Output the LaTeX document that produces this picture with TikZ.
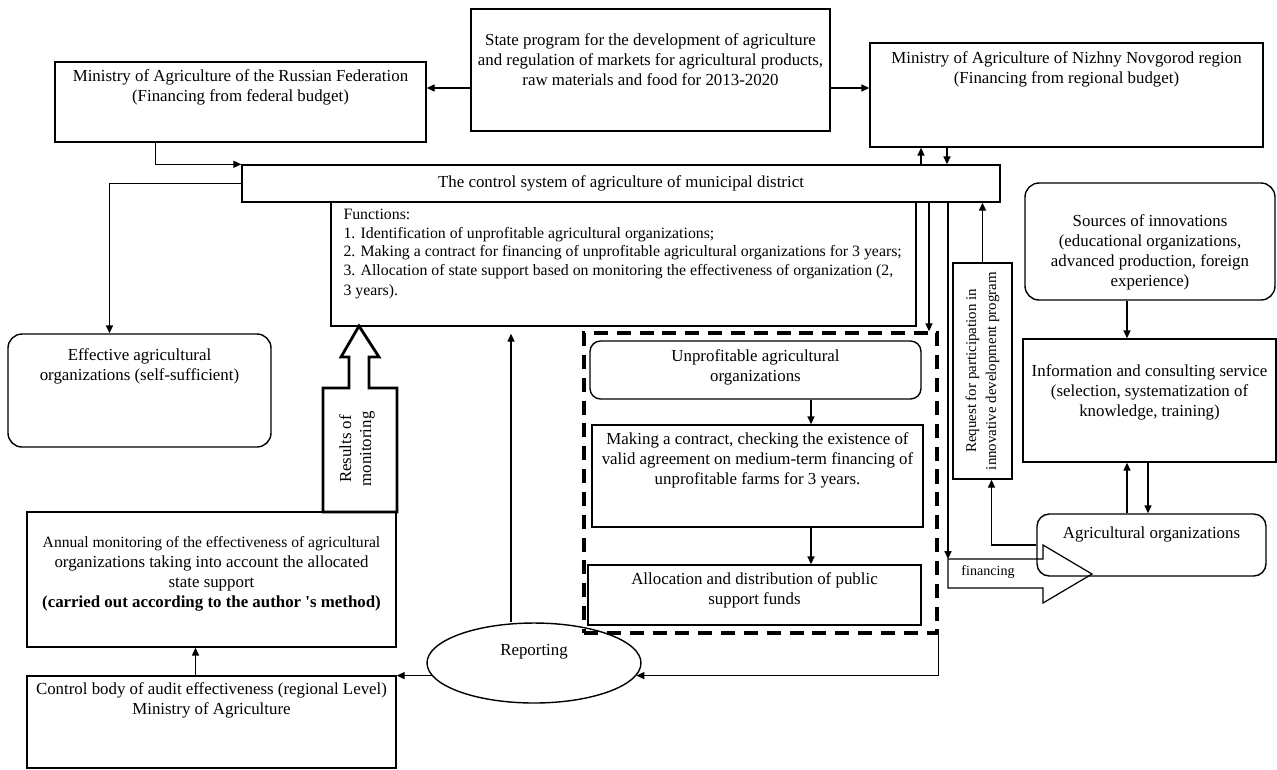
\documentclass[tikz,border=0pt]{standalone}
\usepackage{fontspec}
\setmainfont{Liberation Serif}
\usetikzlibrary{arrows.meta,positioning,fit,shapes.geometric,calc}

\begin{document}
\begin{tikzpicture}[
            x=0.02cm, y=-0.02cm,
            box/.style={draw, rectangle, line width=0.8pt, inner sep=0pt},
            rbox/.style={box, rounded corners=8pt},
            dashbox/.style={draw, line width=2pt, dash pattern=on 8pt off 5pt, inner sep=0pt},
            txt/.style={align=center, font=\fontsize{9.6}{11.4}\selectfont},
            fntxt/.style={align=left, font=\fontsize{9}{10.5}\selectfont},
            arr/.style={line width=0.7pt, -{Triangle[length=4.5pt,width=4pt]}}
        ]
        \useasboundingbox (0,0) rectangle (1277,769);
        \coordinate (xa) at (921,0);
        \coordinate (xb) at (947,0);
        \coordinate (xc) at (929,0);
        \coordinate (xd) at (1127,0);
        \coordinate (xe) at (1148,0);
        \coordinate (xf) at (811,0);
        \coordinate (xg) at (511,0);

        \node[box, fit={(55,62) (426,142)}] (rf) {};
        \node[txt, below=1pt of rf.north] (rf-t) {Ministry of Agriculture of the Russian Federation\\(Financing from federal budget)};
        \node[box, fit={(471,9) (830,131)}] (sp) {};
        \node[txt, below=11pt of sp.north] (sp-t) {State program for the development of agriculture\\and regulation of markets for agricultural products,\\raw materials and food for 2013-2020};
        \node[box, fit={(870,43) (1263,147)}] (nn) {};
        \node[txt, below=2pt of nn.north] (nn-t) {Ministry of Agriculture of Nizhny Novgorod region\\(Financing from regional budget)};

        \node[box, fit={(242,165) (1000,202)}] (ctrl) {};
        \node[txt] (ctrl-t) at (ctrl.center) {The control system of agriculture of municipal district};
        \node[box, fit={(331,202) (916,326)}] (fn) {};
        \node[fntxt, below right=1pt and 4pt of fn.north west] (fn-t) {Functions:\\1. Identification of unprofitable agricultural organizations;\\2. Making a contract for financing of unprofitable agricultural organizations for 3 years;\\3. Allocation of state support based on monitoring the effectiveness of organization (2,\\[1pt]3 years).};

        \node[rbox, fit={(8,334) (271,447)}] (eff) {};
        \node[txt, below=5pt of eff.north] (eff-t) {Effective agricultural\\organizations (self-sufficient)};
        \node[box, fit={(27,512) (396,647)}] (ann) {};
        \node[txt, below=10.8pt of ann.north] (ann-t) {{\fontsize{8.9}{11.4}\selectfont Annual monitoring of the effectiveness of agricultural}\\organizations taking into account the allocated\\state support\\\textbf{(carried out according to the author \textquotesingle s method)}};
        \node[box, fit={(27,676) (396,768)}] (cb) {};
        \node[txt, below=0.5pt of cb.north] (cb-t) {Control body of audit effectiveness (regional Level)\\Ministry of Agriculture};

        \node[dashbox, fit={(584,333) (937,633)}] (dash) {};
        \node[box, rounded corners=6pt, fit={(590,341) (921,399)}] (unp) {};
        \node[txt, below=2pt of unp.north] (unp-t) {Unprofitable agricultural\\organizations};
        \node[box, fit={(592,425) (923,527)}] (con) {};
        \node[txt, below=1pt of con.north] (con-t) {Making a contract, checking the existence of\\valid agreement on medium-term financing of\\unprofitable farms for 3 years.};
        \node[box, fit={(588,565) (921,625)}] (alc) {};
        \node[txt, below=1pt of alc.north] (alc-t) {Allocation and distribution of public\\support funds};

        \node[draw, ellipse, line width=0.8pt, inner sep=0pt, minimum width=4.28cm, minimum height=1.6cm] (rep) at (534,663) {};
        \node[txt] (rep-t) at ($(rep.center)+(0,-11)$) {Reporting};

        \node[box, fit={(953,263) (1012,479)}] (req) {};
        \node[txt, rotate=90, font=\fontsize{8.5}{11.4}\selectfont] (req-t) at (req.center) {Request for participation in\\innovative development program};
        \node[rbox, fit={(1025,183) (1275,300)}] (src) {};
        \node[txt, below=14.8pt of src.north] (src-t) {Sources of innovations\\(educational organizations,\\advanced production, foreign\\experience)};
        \node[box, fit={(1023,339) (1276,462)}] (info) {};
        \node[txt, below=11.4pt of info.north] (info-t) {Information and consulting service\\(selection, systematization of\\knowledge, training)};
        \node[box, rounded corners=7pt, fit={(1037,514) (1266,576)}] (agri) {};
        \node[txt, below=4pt of agri.north] (agri-t) {Agricultural organizations};

        \draw[line width=1.6pt] (323,512) -- (323,388) -- (349,388) -- (349,357) -- (341,357) -- (359,326)
            -- (379,357) -- (369,357) -- (369,388) -- (397,388) -- (397,512) -- cycle;
        \node[txt, rotate=90] (res-t) at (357,449) {Results of\\monitoring};

        \draw[line width=0.7pt] (948,559) coordinate (finA) -- (1043,559) -- (1043,545) -- (1092,574)
            -- (1043,603) -- (1043,588) -- (948,588) -- cycle;
        \node[font=\fontsize{8}{9}\selectfont] (fin-t) at (988,572) {financing};

        \draw[arr] ($(sp.west)+(0,18)$) -- ($(rf.east)+(0,-14)$);
        \draw[arr] ($(sp.east)+(0,18)$) -- ($(nn.west)+(0,-7)$);
        \draw[arr] ($(rf.south)+(-85,0)$) |- (ctrl.north west);
        \draw[arr] (ctrl.west) -| ($(eff.north)+(-30,0)$);
        \draw[arr] (ctrl.north -| xa) -- (nn.south -| xa);
        \draw[arr] (nn.south -| xb) -- (ctrl.north -| xb);
        \draw[arr] (ctrl.south -| xc) -- (dash.north -| xc);
        \draw[arr] (ctrl.south -| finA) -- (finA);
        \draw[arr] (req.north) -- (req.north |- ctrl.south);
        \draw[arr] (agri.west) -| ($(req.south)+(9,0)$);
        \draw[arr] (src.south -| xd) -- (info.north -| xd);
        \draw[arr] (agri.north -| xd) -- (info.south -| xd);
        \draw[arr] (info.south -| xe) -- (agri.north -| xe);
        \draw[arr] (unp.south -| xf) -- (con.north -| xf);
        \draw[arr] (con.south -| xf) -- (alc.north -| xf);
        \draw[arr] (dash.south east) |- (rep.353);
        \draw[arr] (rep.187) -- (rep.187 -| cb.east);
        \draw[arr] ($(cb.north)+(-16,0)$) -- ($(ann.south)+(-16,0)$);
        \draw[arr, shorten >=4pt] (rep.north -| xg) -- (fn.south -| xg);
    \end{tikzpicture}
\end{document}
